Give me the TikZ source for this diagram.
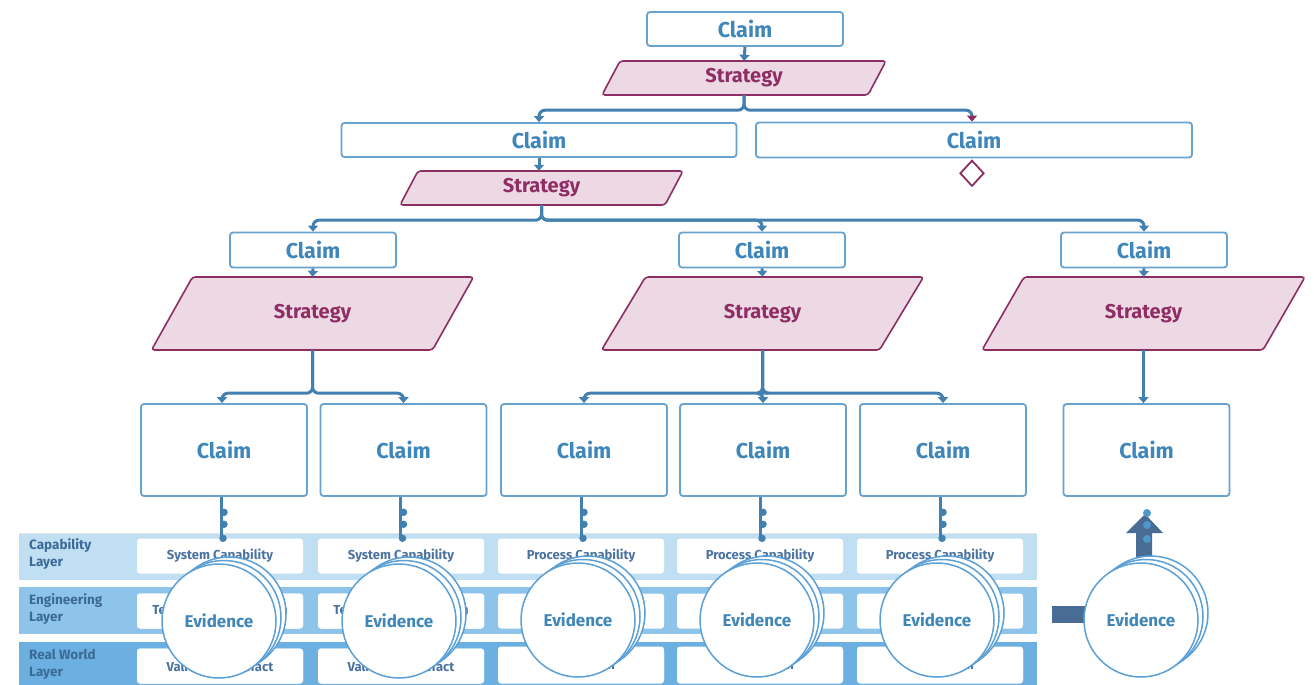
\documentclass[tikz,border=0pt]{standalone}
\usepackage{fontspec}
\setmainfont{Fira Sans}
\usetikzlibrary{arrows.meta,shapes.geometric,calc}
\definecolor{claimT}{RGB}{63,134,185}
\definecolor{claimB}{RGB}{104,162,206}
\definecolor{connC}{RGB}{66,128,176}
\definecolor{stratF}{RGB}{237,217,228}
\definecolor{stratB}{RGB}{140,45,100}
\definecolor{stratT}{RGB}{143,45,101}
\definecolor{capBand}{RGB}{192,223,243}
\definecolor{engBand}{RGB}{142,196,233}
\definecolor{rwBand}{RGB}{108,176,225}
\definecolor{layerT}{RGB}{60,105,150}
\definecolor{boxT}{RGB}{75,115,160}
\definecolor{evB}{RGB}{92,160,214}
\definecolor{bigArr}{RGB}{72,108,148}
\definecolor{dotC}{RGB}{80,150,200}
\newcommand\stratshape[5]{% cx, cy, edge, height, slant
  \filldraw[stratsh] (#1-#3/2+#5/2,#2-#4/2) -- (#1+#3/2+#5/2,#2-#4/2) -- (#1+#3/2-#5/2,#2+#4/2) -- (#1-#3/2-#5/2,#2+#4/2) -- cycle;}
\newcommand\evstack[3]{% name, cx, cy
  \node[evid] at (#2+10,#3-7) {};
  \node[evid] at (#2+5,#3-3.5) {};
  \node[evid] (#1) at (#2,#3) {Evidence};}
\begin{document}
\begin{tikzpicture}[x=1pt,y=-1pt,
  claim/.style={draw=claimB, line width=1.8pt, fill=white, rounded corners=3pt, text=claimT,
    font=\fontsize{21.5}{24}\selectfont\bfseries, inner sep=0pt},
  strattext/.style={text=stratT, font=\fontsize{20}{24}\selectfont\bfseries, inner sep=0pt},
  stratsh/.style={draw=stratB, line width=1.6pt, fill=stratF, rounded corners=3pt},
  conn/.style={draw=connC, line width=3pt, rounded corners=6pt},
  arr/.style={conn, -{Triangle[width=10pt,length=6pt]}},
  band/.style={draw=white!80!gray, line width=0.8pt},
  lbox/.style={fill=white, rounded corners=3pt, minimum width=166pt, minimum height=35pt, inner sep=0pt,
    text=boxT, font=\fontsize{13}{15}\selectfont\bfseries},
  layerlab/.style={text=layerT, font=\fontsize{13.5}{17}\selectfont\bfseries, align=left, anchor=west, inner sep=0pt},
  evid/.style={circle, draw=evB, line width=1.5pt, fill=white, minimum size=114pt, inner sep=0pt,
    text=claimT, font=\fontsize{17}{20}\selectfont\bfseries},
  dot/.style={circle, fill=connC, inner sep=0pt, minimum size=7.5pt},
  ldot/.style={circle, fill=dotC, inner sep=0pt, minimum size=8pt}
]
\useasboundingbox (0,0) rectangle (1314,685);

% ---------- claims ----------
\node[claim, minimum width=196pt, minimum height=34pt] (c1) at (745,29) {Claim};
\node[claim, minimum width=395pt, minimum height=34pt] (c2) at (539,140) {Claim};
\node[claim, minimum width=436pt, minimum height=35pt] (c3) at (974,140) {Claim};
\node[claim, minimum width=166pt, minimum height=35pt] (c4) at (313,250) {Claim};
\node[claim, minimum width=166pt, minimum height=35pt] (c5) at (762,250) {Claim};
\node[claim, minimum width=166pt, minimum height=35pt] (c6) at (1144,250) {Claim};
\foreach \n/\x in {7/224,8/403.5,9/584,10/763,11/943,12/1146.5}
  \node[claim, minimum width=166pt, minimum height=92pt] (c\n) at (\x,450) {Claim};

% ---------- strategies ----------
\stratshape{744}{78}{266}{34}{18}
\node[strattext, minimum width=248pt, minimum height=34pt] (s1) at (744,78) {Strategy};
\stratshape{541.5}{188}{265}{34}{18}
\node[strattext, minimum width=247pt, minimum height=34pt] (s2) at (541.5,188) {Strategy};
\stratshape{312.5}{313.5}{281}{73}{41}
\node[strattext, minimum width=240pt, minimum height=73pt] (s3) at (312.5,313.5) {Strategy};
\stratshape{762.5}{313.5}{278}{73}{44}
\node[strattext, minimum width=234pt, minimum height=73pt] (s4) at (762.5,313.5) {Strategy};
\stratshape{1143.5}{313.5}{281}{73}{42}
\node[strattext, minimum width=239pt, minimum height=73pt] (s5) at (1143.5,313.5) {Strategy};

% diamond
\node[diamond, draw=stratB, line width=1.8pt, fill=white, minimum width=24pt, minimum height=26pt,
  inner sep=0pt, anchor=north] (d1) at ([xshift=-2pt,yshift=-1pt]c3.south) {};

% ---------- connectors ----------
\draw[arr] (c1.south) -- (s1.north);
\draw[arr] (s1.south) -- ++(0,15) -| (c2.north);
\draw[conn, -{Triangle[width=10pt,length=6pt,color=stratB]}] (s1.south) -- ++(0,15) -| ([xshift=-2pt]c3.north);
\draw[arr] (c2.south) -- (c2.south |- s2.north);
\draw[arr] (s2.south) -- ++(0,15) -| (c4.north);
\draw[arr] (s2.south) -- ++(0,15) -| (c5.north);
\draw[arr] (s2.south) -- ++(0,15) -| (c6.north);
\draw[arr] (c4.south) -- (s3.north);
\draw[arr] (c5.south) -- (s4.north);
\draw[arr] (c6.south) -- (s5.north);
\draw[arr] (s3.south) -- ++(0,43) -| ([xshift=-2pt]c7.north);
\draw[arr] (s3.south) -- ++(0,43) -| (c8.north);
\draw[arr] (s4.south) -- ++(0,43) -| (c9.north);
\draw[arr] (s4.south) -- ++(0,43) -| (c10.north);
\draw[arr] (s4.south) -- ++(0,43) -| (c11.north);
\draw[arr] (s5.south) -- (s5.south |- c12.north);

% ---------- layers ----------
\fill[capBand] (19,533) rectangle (1037,580);
\fill[engBand] (19,587) rectangle (1037,634);
\fill[rwBand] (19,642) rectangle (1037,690);
\draw[band] (19,533) -- (1037,533);
\node[layerlab] (l1) at (29,554) {Capability\\Layer};
\node[layerlab] (l2) at (29,609) {Engineering\\Layer};
\node[layerlab] (l3) at (29,664) {Real World\\Layer};

\foreach \i/\x in {1/220,2/401,3/581,4/760,5/940}{
  \node[lbox] (e\i) at (\x,611) {};
  \node[lbox] (r\i) at (\x,666) {};
}
\node[lbox] (cap1) at (220,556) {System Capability};
\node[lbox] (cap2) at (401,556) {System Capability};
\node[lbox] (cap3) at (581,556) {Process Capability};
\node[lbox] (cap4) at (760,556) {Process Capability};
\node[lbox] (cap5) at (940,556) {Process Capability};
\node[lbox] at (e1) {Technical Specification};
\node[lbox] at (e2) {Technical Specification};
\node[lbox] at (r1) {Validated Artefact};
\node[lbox] at (r2) {Validated Artefact};
\node[lbox] at ([yshift=2pt]r3.center) {Verification};
\node[lbox] at ([yshift=2pt]r4.center) {Verification};
\node[lbox] at ([yshift=2pt]r5.center) {Verification};

% claim-to-capability connectors with dots
\foreach \i/\k in {7/1,8/2,9/3,10/4,11/5}{
  \draw[conn] ([xshift=-3pt]c\i.south) -- ([xshift=-3pt]c\i.south |- cap\k.north);
  \node[dot] at ($(c\i.south |- cap\k.north)+(0,-26)$) {};
  \node[dot] at ($(c\i.south |- cap\k.north)+(0,-14)$) {};
  \node[dot] at ($(c\i.south |- cap\k.north)+(-1,0)$) {};
}

% ---------- right side big arrows ----------
\fill[bigArr] (1052,606) rectangle (1092,623);
\fill[bigArr] (1136,562) -- (1136,533) -- (1126,533) -- (1145,514) -- (1163,533) -- (1152,533) -- (1152,562) -- cycle;

% ---------- evidence ----------
\evstack{ev1}{219}{621}
\evstack{ev2}{399}{621}
\evstack{ev3}{578}{620}
\evstack{ev4}{757}{620}
\evstack{ev5}{937}{620}
\evstack{ev6}{1141}{620}

\node[ldot] at (1147,513) {};
\node[ldot] at (1147,525) {};
\node[ldot] at (1147,539) {};
\end{tikzpicture}
\end{document}
